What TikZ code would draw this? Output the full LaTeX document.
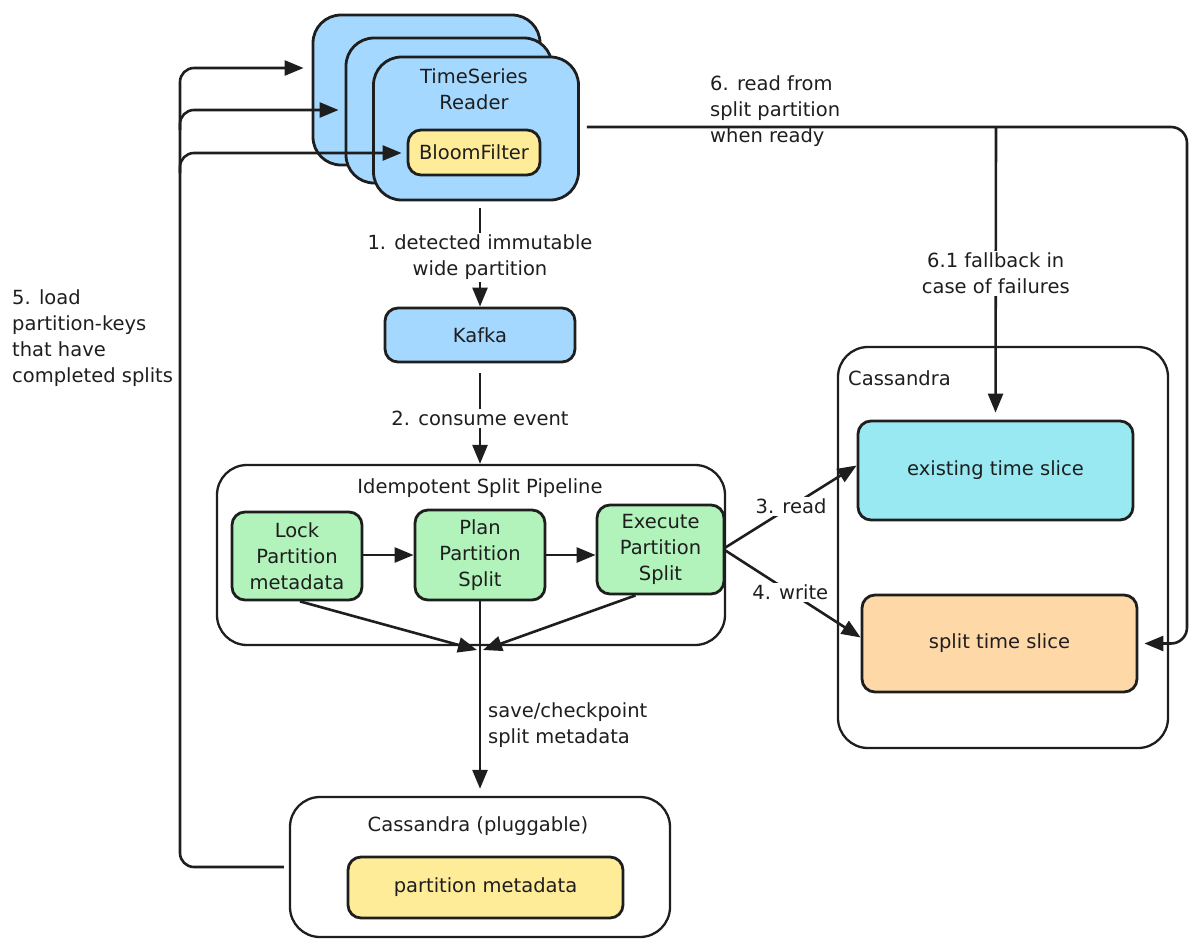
\documentclass[tikz,border=0pt]{standalone}
\usepackage{fontspec}
\setmainfont{DejaVu Sans}
\usetikzlibrary{arrows.meta}
\definecolor{cblue}{HTML}{A5D8FF}
\definecolor{cgreen}{HTML}{B2F2BB}
\definecolor{cyellow}{HTML}{FFEC99}
\definecolor{ccyan}{HTML}{99E9F2}
\definecolor{corange}{HTML}{FFD8A8}
\definecolor{ink}{HTML}{1E1E1E}
\begin{document}
\begin{tikzpicture}[x=1pt,y=-1pt,
  font=\fontsize{19.5}{26}\selectfont, text=ink,
  box/.style={draw=ink, line width=2.8pt, rounded corners=13pt, inner sep=0pt, align=center},
  card/.style={draw=ink, line width=2.8pt, rounded corners=28pt, inner sep=0pt, fill=cblue},
  cont/.style={draw=ink, line width=2.3pt, rounded corners=30pt, inner sep=0pt},
  conn/.style={draw=ink, line width=2.6pt, -{Triangle[length=19pt,width=15pt]}},
  plain/.style={draw=ink, line width=2.6pt},
  lbl/.style={align=center, fill=white, inner sep=2pt},
  txt/.style={align=left, inner sep=0pt, anchor=west}]
\useasboundingbox (0,0) rectangle (1200,951);

% TimeSeries Reader stack
\node[card, minimum width=227, minimum height=150] (ts1) at (426.5,90) {};
\node[card, minimum width=206, minimum height=145] (ts2) at (449,110.5) {};
\node[card, minimum width=205, minimum height=143] (ts3) at (476,128.5) {};
\node[align=center, inner sep=0pt] (tstitle) at (474,89) {TimeSeries\\Reader};
\node[box, fill=cyellow, minimum width=132, minimum height=45] (bloom) at (474,152.5) {BloomFilter};

% Kafka
\node[box, fill=cblue, minimum width=190, minimum height=54] (kafka) at (480,335) {Kafka};

% Pipeline
\node[cont, minimum width=508, minimum height=180] (pipe) at (471,555) {};
\node[inner sep=0pt] (pipetitle) at (480,488) {Idempotent Split Pipeline};
\node[box, fill=cgreen, minimum width=130, minimum height=88] (lock) at (297,556) {Lock\\Partition\\metadata};
\node[box, fill=cgreen, minimum width=130, minimum height=90] (plan) at (480,555) {Plan\\Partition\\Split};
\node[box, fill=cgreen, minimum width=127, minimum height=89] (exec) at (660.5,549.5) {Execute\\Partition\\Split};

% Right Cassandra
\node[cont, minimum width=330, minimum height=401] (casR) at (1003,547.5) {};
\node[txt] (casRtitle) at (848,378) {Cassandra};
\node[box, fill=ccyan, minimum width=275, minimum height=99] (exist) at (995.5,470.5) {existing time slice};
\node[box, fill=corange, minimum width=275, minimum height=97] (split) at (999.5,643.5) {split time slice};

% Bottom Cassandra
\node[cont, minimum width=380, minimum height=140] (casP) at (480,867) {};
\node[inner sep=0pt] (casPtitle) at (478,826) {Cassandra (pluggable)};
\node[box, fill=cyellow, minimum width=275, minimum height=61] (pmeta) at (485.5,887.5) {partition metadata};

% helper coordinates
\coordinate (lx) at (180,0);
\coordinate (b1) at (0,68);
\coordinate (b2) at (0,110);
\coordinate (b3) at (0,153);
\coordinate (rx) at (1187,0);
\coordinate (j) at (996,127);
\coordinate (m) at (480,650);

% 1
\draw[conn] ([yshift=-7pt]kafka.north |- ts3.south) -- (kafka.north)
  node[lbl, midway] (l1) {1. detected immutable\\wide partition};
% 2
\draw[conn] ([yshift=-10pt]kafka.south) -- (kafka.south |- pipe.north)
  node[lbl, midway] (l2) {2. consume event};
% internal pipeline
\draw[conn] (lock.east |- plan.east) -- (plan.west);
\draw[conn] (plan.east) -- (plan.east -| exec.west);
\draw[conn] ([xshift=3pt]lock.south) -- ([xshift=-3pt]m);
\draw[conn] ([xshift=-25pt]exec.south) -- ([xshift=3pt]m);
\draw[conn, shorten >=7pt] (plan.south) -- (casP.north);
\node[txt] (lsave) at (488,725) {save/checkpoint\\split metadata};
% 3 and 4
\draw[conn] ([yshift=2pt]exec.east) -- ([yshift=5pt]exist.west)
  node[lbl, pos=0.5] (l3) {3. read};
\draw[conn] ([yshift=-1pt]exec.east) -- ([yshift=6pt]split.west)
  node[lbl, pos=0.48] (l4) {4. write};
% 5 loop
\draw[conn, rounded corners=14pt] ([xshift=-5pt]casP.west) -- (casP.west -| lx) -- (lx |- b1) -- ([xshift=-8pt]ts1.west |- b1);
\draw[conn, rounded corners=14pt] ([yshift=-20pt]lx |- b2) -- (lx |- b2) -- ([xshift=-6pt]ts2.west |- b2);
\draw[conn, rounded corners=14pt] ([yshift=-20pt]lx |- b3) -- (lx |- b3) -- ([xshift=-5pt]bloom.west |- b3);
\node[txt] (l5) at (12,338) {5. load\\partition-keys\\that have\\completed splits};
% 6
\draw[conn, rounded corners=16pt] ([xshift=7pt]ts3.east |- j) -- (rx |- j) -- (rx |- split.east) -- ([xshift=6pt]split.east);
\node[txt] (l6) at (710,111) {6. read from\\split partition\\when ready};
\draw[conn, shorten >=7pt] (j) -- (exist.north)
  node[lbl, midway] (l61) {6.1 fallback in\\case of failures};
\end{tikzpicture}
\end{document}
